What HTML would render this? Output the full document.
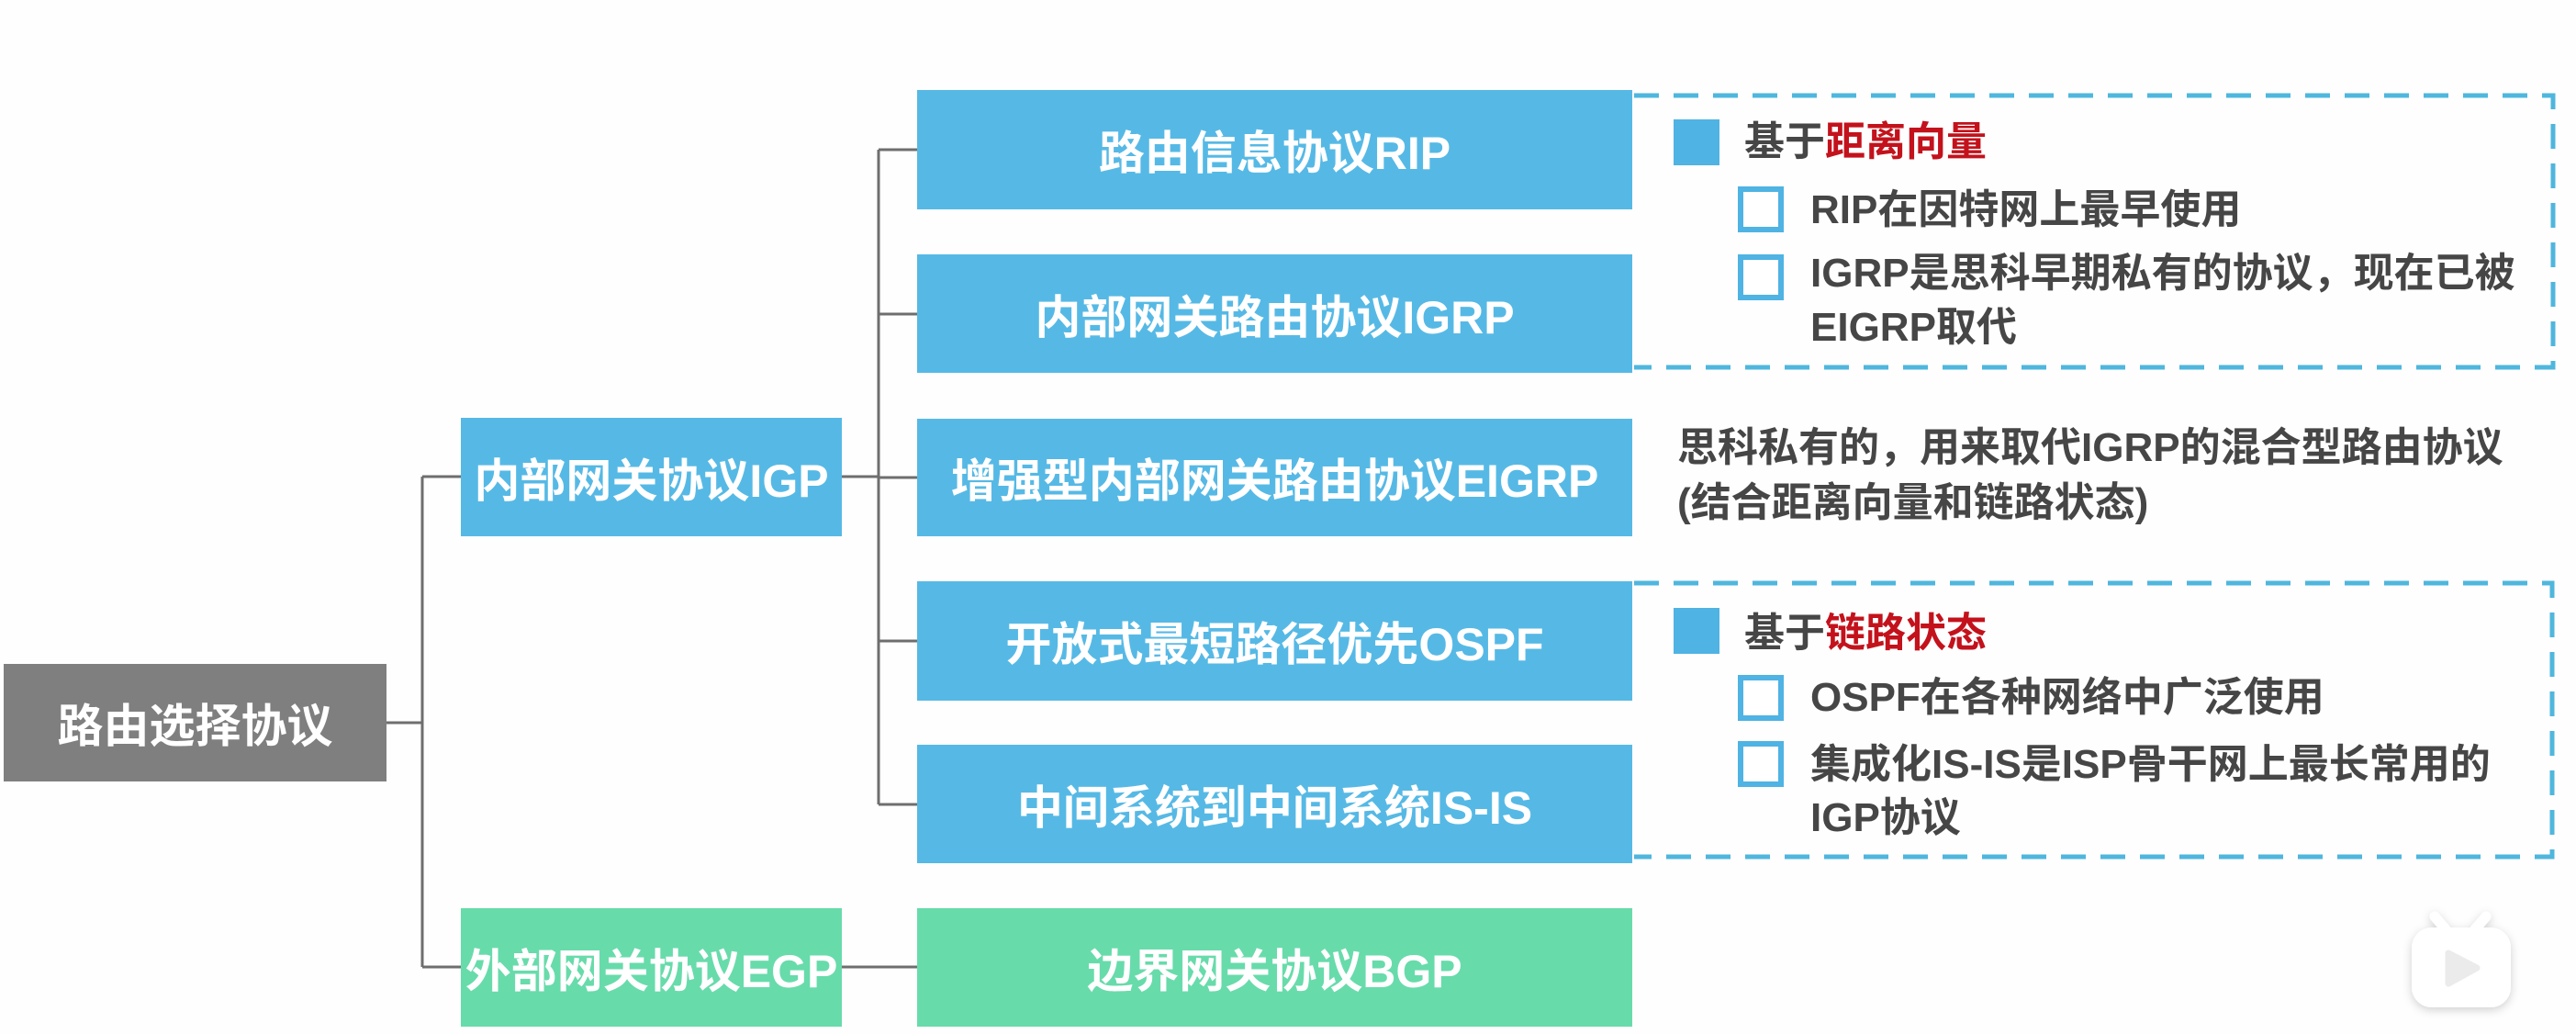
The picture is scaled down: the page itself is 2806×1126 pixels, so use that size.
<!DOCTYPE html>
<html>
<head>
<meta charset="utf-8">
<style>
  html, body { margin:0; padding:0; }
  body { width:2806px; height:1126px; background:#fefefe; position:relative; overflow:hidden;
         font-family:"Liberation Sans","Noto Sans CJK SC",sans-serif; font-weight:bold; }
  .node { position:absolute; display:flex; align-items:center; justify-content:center;
          color:#fff; font-size:50px; white-space:nowrap; letter-spacing:0; }
  .blue { background:#56b9e5; }
  .green { background:#68dbab; }
  .gray { background:#7f7f7f; }
  .t { position:absolute; font-size:44px; line-height:60px; height:60px; color:#464646; white-space:nowrap; }
  .red { color:#c3121c; }
  svg { position:absolute; left:0; top:0; }
</style>
</head>
<body>
<svg width="2806" height="1126" viewBox="0 0 2806 1126">
  <defs>
    <filter id="sh" x="-30%" y="-30%" width="160%" height="160%">
      <feDropShadow dx="0" dy="3" stdDeviation="5" flood-color="#000" flood-opacity="0.18"/>
    </filter>
  </defs>
  <!-- dashed group boxes -->
  <path d="M1780 104 H2781 V400 H1780" fill="none" stroke="#4fb6dd" stroke-width="5" stroke-dasharray="27 16"/>
  <path d="M1780 635 H2780 V933 H1780" fill="none" stroke="#4fb6dd" stroke-width="5" stroke-dasharray="27 16"/>
  <!-- connectors -->
  <g stroke="#6e6e6e" stroke-width="3" fill="none">
    <path d="M421 787 H460"/>
    <path d="M460 519 V1053"/>
    <path d="M460 519 H502"/>
    <path d="M460 1053 H502"/>
    <path d="M917 519 H957"/>
    <path d="M957 163 V876"/>
    <path d="M957 163 H999"/>
    <path d="M957 342 H999"/>
    <path d="M957 520 H999"/>
    <path d="M957 698 H999"/>
    <path d="M957 876 H999"/>
    <path d="M917 1053 H999"/>
  </g>
  <!-- bullets -->
  <rect x="1823" y="130" width="50" height="50" fill="#4fb3e3"/>
  <rect x="1896" y="206" width="44" height="44" fill="#fff" stroke="#4fb3e3" stroke-width="6"/>
  <rect x="1896" y="280" width="44" height="44" fill="#fff" stroke="#4fb3e3" stroke-width="6"/>
  <rect x="1823" y="662" width="50" height="50" fill="#4fb3e3"/>
  <rect x="1896" y="738" width="44" height="44" fill="#fff" stroke="#4fb3e3" stroke-width="6"/>
  <rect x="1896" y="810" width="44" height="44" fill="#fff" stroke="#4fb3e3" stroke-width="6"/>
  <!-- video icon -->
  <g filter="url(#sh)">
    <line x1="2652" y1="998" x2="2664" y2="1012" stroke="#fff" stroke-width="11" stroke-linecap="round"/>
    <line x1="2708" y1="998" x2="2696" y2="1012" stroke="#fff" stroke-width="11" stroke-linecap="round"/>
    <rect x="2627" y="1010" width="108" height="87" rx="22" ry="22" fill="#fff"/>
  </g>
  <path d="M2667 1038 L2698 1054 L2667 1071 Z" fill="#ebebeb" stroke="#ebebeb" stroke-width="7" stroke-linejoin="round"/>
</svg>

<div class="node gray" style="left:4px;top:723px;width:417px;height:128px;">路由选择协议</div>
<div class="node blue" style="left:502px;top:455px;width:415px;height:129px;">内部网关协议IGP</div>
<div class="node green" style="left:502px;top:989px;width:415px;height:129px;">外部网关协议EGP</div>

<div class="node blue" style="left:999px;top:98px;width:779px;height:130px;">路由信息协议RIP</div>
<div class="node blue" style="left:999px;top:277px;width:779px;height:129px;">内部网关路由协议IGRP</div>
<div class="node blue" style="left:999px;top:456px;width:779px;height:128px;">增强型内部网关路由协议EIGRP</div>
<div class="node blue" style="left:999px;top:633px;width:779px;height:130px;">开放式最短路径优先OSPF</div>
<div class="node blue" style="left:999px;top:811px;width:779px;height:129px;">中间系统到中间系统IS-IS</div>
<div class="node green" style="left:999px;top:989px;width:779px;height:129px;">边界网关协议BGP</div>

<div class="t" style="left:1900px;top:125px;">基于<span class="red">距离向量</span></div>
<div class="t" style="left:1972px;top:199px;">RIP在因特网上最早使用</div>
<div class="t" style="left:1972px;top:268px;">IGRP是思科早期私有的协议，现在已被</div>
<div class="t" style="left:1972px;top:327px;">EIGRP取代</div>

<div class="t" style="left:1827px;top:458px;">思科私有的，用来取代IGRP的混合型路由协议</div>
<div class="t" style="left:1827px;top:518px;">(结合距离向量和链路状态)</div>

<div class="t" style="left:1900px;top:660px;">基于<span class="red">链路状态</span></div>
<div class="t" style="left:1972px;top:730px;">OSPF在各种网络中广泛使用</div>
<div class="t" style="left:1972px;top:803px;">集成化IS-IS是ISP骨干网上最长常用的</div>
<div class="t" style="left:1972px;top:861px;">IGP协议</div>
</body>
</html>
